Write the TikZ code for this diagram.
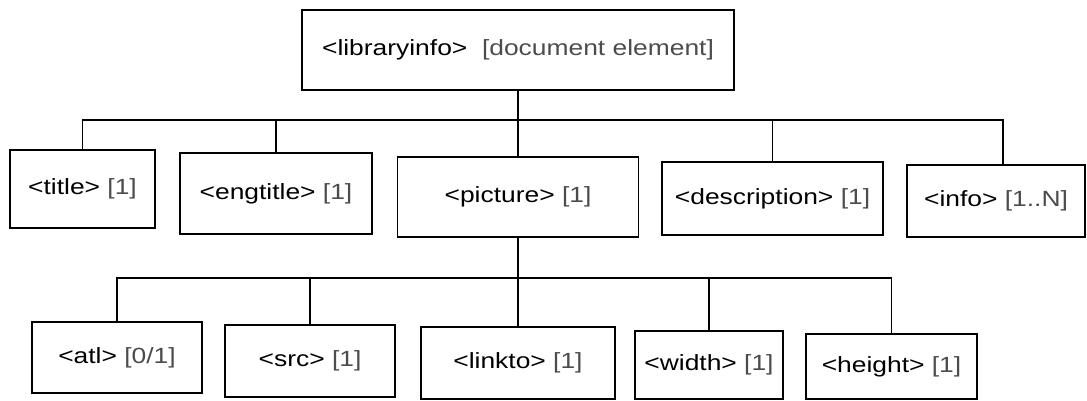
\documentclass[tikz,border=0pt]{standalone}
\usepackage{fontspec}
\setmainfont{Liberation Sans}[FakeStretch=1.2]
\usepackage{tikz}

\begin{document}
\begin{tikzpicture}[
			x = 1pt, y = -1pt,
			line width = 1.8pt,
			every node/.style = {font=\fontsize{22}{26}\selectfont},
			box/.style = {draw, rectangle, inner sep=0pt, align=center}
			]

			\useasboundingbox (0,0) rectangle (1087,401);

			\node[box, minimum width=432, minimum height=80] (root) at (518,50)
				{<libraryinfo>\ \ \textcolor{black!70}{[document element]}};

			\node[box, minimum width=145, minimum height=78] (title) at (82.5,189) {<title> \textcolor{black!70}{[1]}};
			\node[box, minimum width=192, minimum height=81] (engtitle) at (276,193.5) {<engtitle> \textcolor{black!70}{[1]}};
			\node[box, minimum width=241, minimum height=80] (picture) at (518,197) {<picture> \textcolor{black!70}{[1]}};
			\node[box, minimum width=221, minimum height=73] (description) at (772.5,198.5) {<description> \textcolor{black!70}{[1]}};
			\node[box, minimum width=178, minimum height=72] (info) at (996,201) {<info> \textcolor{black!70}{[1..N]}};

			\node[box, minimum width=170, minimum height=71] (atl) at (117,357.5) {<atl> \textcolor{black!70}{[0/1]}};
			\node[box, minimum width=170, minimum height=72] (src) at (310,361) {<src> \textcolor{black!70}{[1]}};
			\node[box, minimum width=194, minimum height=72] (linkto) at (518,363) {<linkto> \textcolor{black!70}{[1]}};
			\node[box, minimum width=148, minimum height=68] (width) at (709,365) {<width> \textcolor{black!70}{[1]}};
			\node[box, minimum width=171, minimum height=65] (height) at (891.5,366.5) {<height> \textcolor{black!70}{[1]}};

			% first level
			\coordinate (busA) at (518,120);
			\draw (root.south) -- (picture.north);
			\draw (title.north) |- (busA) -| ([xshift=7pt]info.north);
			\foreach \n in {engtitle,description}
				\draw (\n.north) -- (\n.north |- busA);

			% second level
			\coordinate (busB) at (518,278);
			\draw (picture.south) -- (linkto.north);
			\draw (atl.north) |- (busB) -| (height.north);
			\foreach \n in {src,width}
				\draw (\n.north) -- (\n.north |- busB);

		\end{tikzpicture}
\end{document}
